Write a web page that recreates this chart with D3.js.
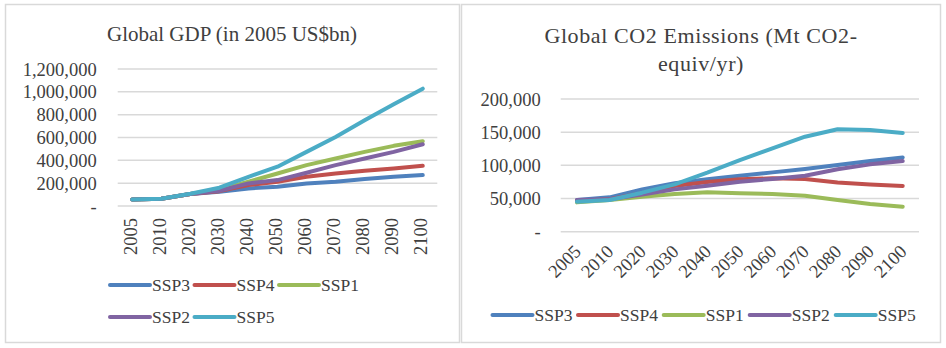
<!DOCTYPE html>
<meta charset="utf-8">
<script src="https://d3js.org/d3.v7.min.js"></script>
<style>
	body{margin:0;background:#fff;}
	text{font-family:'Liberation Serif',serif;fill:#404040;}
</style>
<div id="chart"></div>
<script>
// categories
var years = ["2005","2010","2020","2030","2040","2050","2060","2070","2080","2090","2100"]
var seriesNames = ["SSP3","SSP4","SSP1","SSP2","SSP5"]
var seriesColors = ["#4F81BD","#C0504D","#9BBB59","#8064A2","#4BACC6"]

// Global GDP (2005 US$bn)
var gdpSSP3 = [58000,64000,105000,125000,154000,169000,198000,213000,236000,256000,271000]
var gdpSSP4 = [58000,64000,105000,130000,183000,213000,256000,285000,309000,329000,352000]
var gdpSSP1 = [58000,64000,105000,146000,213000,285000,358000,416000,474000,527000,568000]
var gdpSSP2 = [58000,64000,105000,134000,198000,227000,291000,358000,416000,474000,541000]
var gdpSSP5 = [58000,64000,107000,160000,256000,344000,474000,605000,751000,891000,1028000]
var gdpTicks = [0,200000,400000,600000,800000,1000000,1200000]

// Global CO2 emissions (Mt CO2-equiv/yr)
var co2SSP3 = [47700,51800,63800,72900,78900,84400,89400,94500,100500,106500,112000]
var co2SSP4 = [46700,49000,58000,69000,75000,79000,80400,79400,74000,71000,69000]
var co2SSP1 = [44200,47700,52800,56800,59300,57800,56800,54300,47700,41700,37700]
var co2SSP2 = [47700,49000,56000,63800,69300,75400,79400,84400,94000,101500,106500]
var co2SSP5 = [45200,47700,58800,71400,89000,108000,125600,143200,154300,153300,148700]
var co2Ticks = [0,50000,100000,150000,200000]

var W = 946, H = 348
var svg = d3.select("#chart").append("svg").attr("width",W).attr("height",H)
svg.append("rect").attr("width",W).attr("height",H).attr("fill","#fff")

var fmt = function(v){ return v==0 ? "-" : d3.format(",")(v) }

function drawPanel(cfg){
	var g = svg.append("g")
	g.append("rect")
		.attr("x",cfg.box[0]).attr("y",cfg.box[1]).attr("width",cfg.box[2]).attr("height",cfg.box[3])
		.attr("fill","#fff").attr("stroke","#d9d9d9").attr("stroke-width",1.5)

	var title = g.append("text").attr("text-anchor","middle")
		.style("font-size",cfg.titleSize+"px").style("letter-spacing",cfg.titleSpacing+"px")
	cfg.title.forEach(function(t,i){
		title.append("tspan").attr("x",cfg.titleX).attr("y",cfg.titleY+i*cfg.titleLead).text(t)
	})

	var x = d3.scaleBand().domain(years).range([cfg.x0,cfg.x1])
	var y = d3.scaleLinear().domain([0,d3.max(cfg.ticks)]).range([cfg.y0,cfg.y1])

	g.selectAll(".grid").data(cfg.ticks).join("line").attr("class","grid")
		.attr("x1",cfg.x0).attr("x2",cfg.x1)
		.attr("y1",function(d){return y(d)}).attr("y2",function(d){return y(d)})
		.attr("stroke","#d9d9d9").attr("stroke-width",1.5)

	g.selectAll(".ylab").data(cfg.ticks).join("text").attr("class","ylab")
		.attr("x",cfg.x0-cfg.ylabGap).attr("y",function(d){return y(d)+6.5})
		.attr("text-anchor","end").style("font-size",cfg.tickSize+"px")
		.text(fmt)

	g.selectAll(".xlab").data(years).join("text").attr("class","xlab")
		.attr("text-anchor","end").style("font-size",cfg.tickSize+"px")
		.attr("transform",function(d){
			var cx = x(d)+x.bandwidth()/2
			return "translate("+(cx+cfg.xlabDx)+","+(cfg.y0+cfg.xlabDy)+") rotate("+cfg.rot+")"
		})
		.text(function(d){return d})

	var line = d3.line()
		.x(function(d,i){return x(years[i])+x.bandwidth()/2})
		.y(function(d){return y(d)})

	cfg.series.forEach(function(s,i){
		g.append("path").attr("d",line(s))
			.attr("fill","none").attr("stroke",seriesColors[i])
			.attr("stroke-width",4).attr("stroke-linejoin","round").attr("stroke-linecap","round")
	})

	seriesNames.forEach(function(n,i){
		var p = cfg.legendPos[i]
		g.append("line").attr("x1",p[0]).attr("x2",p[0]+40).attr("y1",p[1]).attr("y2",p[1])
			.attr("stroke",seriesColors[i]).attr("stroke-width",4).attr("stroke-linecap","round")
		g.append("text").attr("x",p[0]+42).attr("y",p[1]+6)
			.style("font-size",cfg.legSize+"px").text(n)
	})
}

drawPanel({
	box:[5.5,4.5,454,338],
	title:["Global GDP (in 2005 US$bn)"], titleX:232, titleY:41, titleLead:0, titleSize:21, titleSpacing:0,
	x0:117.7, x1:437.3, y0:206, y1:69, ticks:gdpTicks, ylabGap:21, tickSize:18.5,
	xlabDx:4.5, xlabDy:12, rot:-90,
	series:[gdpSSP3,gdpSSP4,gdpSSP1,gdpSSP2,gdpSSP5],
	legendPos:[[110,285],[194.5,285],[279,285],[110,317],[194.5,317]], legSize:17.5
})

drawPanel({
	box:[461.5,4.5,479,338],
	title:["Global CO2 Emissions (Mt CO2-","equiv/yr)"], titleX:701, titleY:43, titleLead:28, titleSize:22, titleSpacing:0.6,
	x0:560.7, x1:919, y0:231.7, y1:99, ticks:co2Ticks, ylabGap:20, tickSize:18.5,
	xlabDx:5, xlabDy:21, rot:-45,
	series:[co2SSP3,co2SSP4,co2SSP1,co2SSP2,co2SSP5],
	legendPos:[[492.5,315],[578,315],[663.7,315],[749.7,315],[835.7,315]], legSize:17.5
})
</script>
